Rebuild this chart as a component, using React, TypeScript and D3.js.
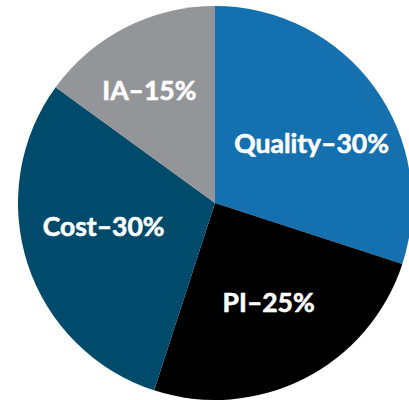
import { useEffect, useRef } from "react";
import * as d3 from "d3";

const categories = ["Quality", "PI", "Cost", "IA"];
const shares = [30, 25, 30, 15];
const colors = ["#1470ae", "#000000", "#004b6b", "#939598"];

// small hand nudges so labels sit where the original put them
const labelNudge: Record<string, [number, number]> = {
  Quality: [1, 10],
  PI: [0, -6],
  Cost: [1, -13],
  IA: [-12, -7],
};

export default function App() {
  const ref = useRef<SVGSVGElement>(null);

  useEffect(() => {
    const width = 409, height = 400;
    const cx = 215, cy = 203, radius = 197;

    const svg = d3.select(ref.current);
    svg.selectAll("*").remove();

    const data = categories.map((name, i) => ({ name, value: shares[i], color: colors[i] }));

    const pie = d3.pie<{ name: string; value: number; color: string }>()
      .sort(null)
      .value(d => d.value);

    const arc = d3.arc<d3.PieArcDatum<any>>()
      .innerRadius(0)
      .outerRadius(radius);

    const labelArc = d3.arc<d3.PieArcDatum<any>>()
      .innerRadius(radius * 0.6)
      .outerRadius(radius * 0.6);

    const g = svg
      .attr("width", width)
      .attr("height", height)
      .append("g")
      .attr("transform", "translate(" + cx + "," + cy + ")");

    const arcs = pie(data);

    g.selectAll("path")
      .data(arcs)
      .enter()
      .append("path")
      .attr("d", arc)
      .attr("fill", d => d.data.color);

    g.selectAll("text")
      .data(arcs)
      .enter()
      .append("text")
      .attr("transform", d => {
        const [x, y] = labelArc.centroid(d);
        const [nx, ny] = labelNudge[d.data.name];
        return "translate(" + (x + nx) + "," + (y + ny) + ")";
      })
      .attr("text-anchor", "middle")
      .attr("dy", "0.36em")
      .attr("fill", "#ffffff")
      .attr("stroke", "#ffffff")
      .attr("stroke-width", 0.6)
      .style("font-family", "Lato, 'Open Sans', sans-serif")
      .style("font-weight", 700)
      .style("font-size", "26.5px")
      .text(d => d.data.name + "\u2013" + d.data.value + "%");
  }, []);

  return (
    <svg
      ref={ref}
      style={{ position: "fixed", left: 0, top: 0, display: "block", background: "#ffffff" }}
    />
  );
}
